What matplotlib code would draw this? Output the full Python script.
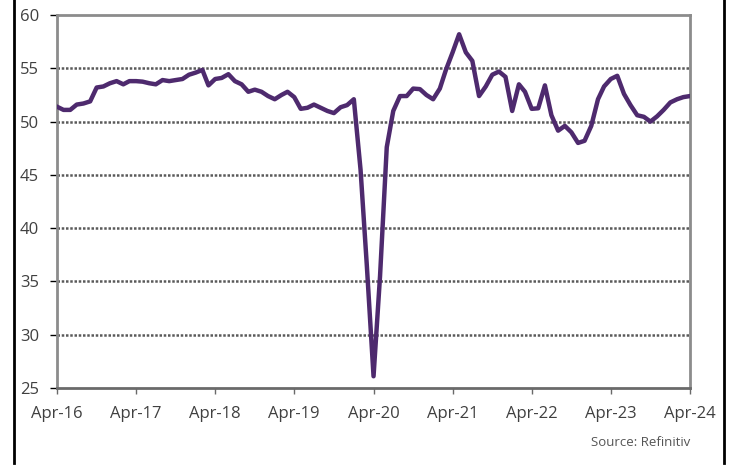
import matplotlib
matplotlib.use('Agg')
import matplotlib.pyplot as plt
import matplotlib.dates as mdates
import pandas as pd

# global composite PMI, monthly Apr-16 .. Apr-24
pmi = [51.4, 51.1, 51.1, 51.6, 51.7, 51.9, 53.2, 53.3, 53.6, 53.8, 53.5, 53.8,
       53.8, 53.75, 53.6, 53.5, 53.9, 53.8, 53.9, 54.0, 54.4, 54.6, 54.85, 53.4,
       54.0, 54.1, 54.45, 53.8, 53.5, 52.8, 53.0, 52.8, 52.4, 52.1, 52.5, 52.8,
       52.3, 51.2, 51.3, 51.6, 51.3, 51.0, 50.8, 51.35, 51.55, 52.1, 45.5, 36.5,
       26.1, 35.5, 47.6, 51.0, 52.4, 52.4, 53.1, 53.05, 52.5, 52.1, 53.1, 54.85,
       56.5, 58.2, 56.5, 55.7, 52.4, 53.3, 54.4, 54.7, 54.2, 51.0, 53.5, 52.8,
       51.2, 51.25, 53.4, 50.6, 49.15, 49.6, 49.0, 48.0, 48.2, 49.6, 52.1, 53.3,
       54.0, 54.3, 52.6, 51.55, 50.6, 50.45, 50.0, 50.5, 51.1, 51.8, 52.1, 52.3,
       52.4]
dates = pd.date_range('2016-04-01', '2024-04-01', freq='MS')
yticks = [25, 30, 35, 40, 45, 50, 55, 60]
xticks = pd.date_range('2016-04-01', '2024-04-01', freq='12MS')

plt.rcParams['font.family'] = ['Open Sans', 'DejaVu Sans']
txt = '#404040'

fig = plt.figure(figsize=(7.31, 4.65), dpi=100)
ax = fig.add_axes([0.078, 0.1656, 0.866, 0.802])

ax.plot(dates, pmi, color='#4E2A6E', lw=3.2, solid_joinstyle='round', zorder=3)

ax.set_ylim(25, 60)
ax.set_xlim(dates[0], dates[-1])
ax.set_yticks(yticks)
ax.set_xticks(xticks)
ax.xaxis.set_major_formatter(mdates.DateFormatter('%b-%y'))

for y in yticks[1:-1]:
    ax.axhline(y, color='#5a5a5a', lw=1.8, ls=(0, (1.0, 0.7)), zorder=1)

for s in ax.spines.values():
    s.set_color('#8c8c8c')
    s.set_linewidth(2)
ax.spines['bottom'].set_color('#6a6a6a')

ax.tick_params(axis='y', length=5, width=1, color='black', labelsize=12,
               labelcolor=txt, pad=8)
ax.tick_params(axis='x', length=4, width=1, color='#6a6a6a', labelsize=12,
               labelcolor=txt, pad=9)

fig.text(0.944, 0.035, 'Source: Refinitiv', ha='right', va='bottom',
         fontsize=9.5, color='#555555')

# side borders of the original frame
fig.add_artist(plt.Line2D([0.019, 0.019], [0.005, 1.0], color='black', lw=2))
fig.add_artist(plt.Line2D([0.99, 0.99], [0.005, 1.0], color='black', lw=2))

fig.savefig('out.png', dpi=100)
